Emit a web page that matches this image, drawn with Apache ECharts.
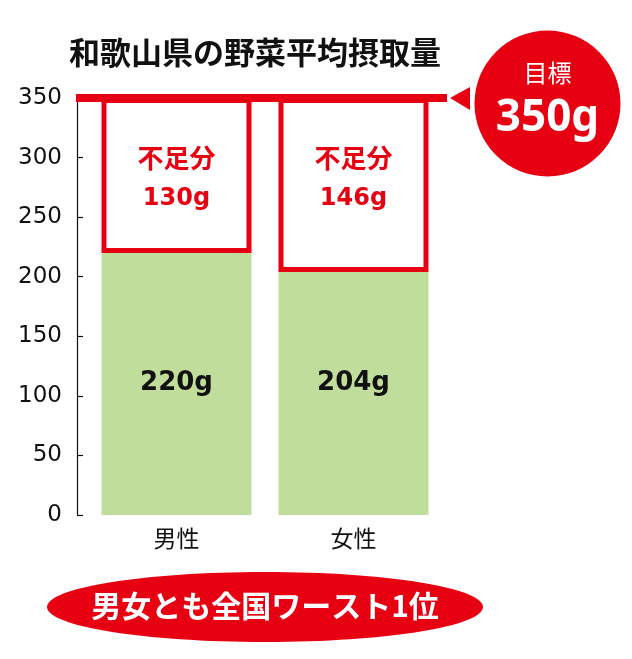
<!DOCTYPE html>
<html>
<head>
<meta charset="utf-8">
<script src="https://cdn.jsdelivr.net/npm/echarts@6/dist/echarts.min.js"></script>
<style>html,body{margin:0;padding:0;background:#fff}#c{width:632px;height:659px}</style>
</head>
<body>
<div id="c"></div>
<script>
const categories = ['男性', '女性'];
const intake = [220, 204];
const target = 350;
const shortage = [130, 146];
const yTicks = [0, 50, 100, 150, 200, 250, 300, 350];
const titleText = '和歌山県の野菜平均摂取量';
const targetLabel = '目標';
const bottomText = '男女とも全国ワースト1位';

const RED = '#e60012';
const GREEN = '#c1dd9b';
const CJK = '"Noto Sans CJK JP", "Noto Sans", sans-serif';

const chart = echarts.init(document.getElementById('c'), null, {renderer: 'canvas'});

const boxData = categories.map((c, i) => [i, intake[i], target, shortage[i]]);

chart.setOption({
  animation: false,
  backgroundColor: '#fff',
  title: {
    text: titleText, left: 64, top: 32,
    textStyle: {fontFamily: CJK, fontSize: 31, fontWeight: 'bold', color: '#111'}
  },
  grid: {left: 88, right: 190, top: 98, bottom: 144},
  xAxis: {
    type: 'category', data: categories,
    axisLine: {show: false}, axisTick: {show: false},
    axisLabel: {margin: 12, fontFamily: CJK, fontSize: 23, color: '#111'}
  },
  yAxis: {
    type: 'value', min: yTicks[0], max: yTicks[yTicks.length - 1], interval: 50,
    offset: 11,
    splitLine: {show: false},
    axisLine: {show: true, lineStyle: {color: '#111', width: 1.2}},
    axisTick: {show: true, inside: true, length: 6, lineStyle: {color: '#111', width: 1.2}},
    axisLabel: {margin: 15, fontFamily: '"DejaVu Sans", sans-serif', fontSize: 23, color: '#111'}
  },
  series: [
    {
      type: 'bar', data: intake, barWidth: 150,
      itemStyle: {color: GREEN},
      label: {
        show: true, position: 'insideBottom', distance: 119, formatter: '{c}g',
        fontFamily: '"DejaVu Sans", sans-serif', fontWeight: 'bold', fontSize: 26, color: '#111'
      },
      z: 2
    },
    {
      type: 'custom', data: boxData, z: 3,
      encode: {x: 0, y: [1, 2]},
      renderItem: function (params, api) {
        const i = api.value(0);
        const bottom = api.coord([i, api.value(1)]);
        const top = api.coord([i, api.value(2)]);
        const w = 150, sw = 5;
        const x0 = bottom[0] - w / 2;
        return {
          type: 'group',
          children: [
            {
              type: 'rect',
              shape: {x: x0 + sw / 2, y: top[1] + sw / 2, width: w - sw, height: bottom[1] - top[1] - sw},
              style: {fill: '#fff', stroke: RED, lineWidth: sw}
            },
            {
              type: 'text',
              style: {
                x: bottom[0], y: top[1] + 80,
                text: '{a|不足分}\n{b|' + api.value(3) + 'g}',
                align: 'center', verticalAlign: 'middle', fill: RED,
                rich: {
                  a: {fontFamily: CJK, fontWeight: 'bold', fontSize: 26, fill: RED, lineHeight: 42, align: 'center'},
                  b: {fontFamily: '"DejaVu Sans", sans-serif', fontWeight: 'bold', fontSize: 24, fill: RED, lineHeight: 40, align: 'center'}
                }
              }
            }
          ]
        };
      }
    },
    {
      type: 'custom', data: [[0, target]], z: 5,
      encode: {x: 0, y: 1},
      renderItem: function (params, api) {
        const p = api.coord([0, api.value(1)]);
        const cs = params.coordSys;
        const y = p[1];
        const xs = cs.x - 12, xe = cs.x + cs.width + 5;
        const cx = 547.5, cy = y + 5.5, r = 73;
        return {
          type: 'group',
          children: [
            {type: 'line', shape: {x1: xs, y1: y, x2: xe, y2: y}, style: {stroke: RED, lineWidth: 8}},
            {type: 'polygon', shape: {points: [[xe + 3, y], [xe + 23, y - 11], [xe + 23, y + 12]]}, style: {fill: RED}},
            {type: 'circle', shape: {cx: cx, cy: cy, r: r}, style: {fill: RED}},
            {type: 'text', style: {x: cx, y: cy - 31, text: targetLabel, align: 'center', verticalAlign: 'middle',
              fontFamily: CJK, fontSize: 24, fill: '#fff'}},
            {type: 'text', style: {x: cx, y: cy + 15, text: api.value(1) + 'g', align: 'center', verticalAlign: 'middle',
              fontFamily: '"Noto Sans", sans-serif', fontWeight: 'bold', fontSize: 44, fill: '#fff'}}
          ]
        };
      }
    }
  ],
  graphic: [
    {type: 'ellipse', shape: {cx: 265, cy: 607, rx: 218, ry: 35}, style: {fill: RED}, z: 10},
    {type: 'text', x: 265, y: 606, z: 11,
      style: {text: bottomText, align: 'center', verticalAlign: 'middle',
        fontFamily: CJK, fontWeight: 'bold', fontSize: 30, fill: '#fff'}}
  ]
});
</script>
</body>
</html>
